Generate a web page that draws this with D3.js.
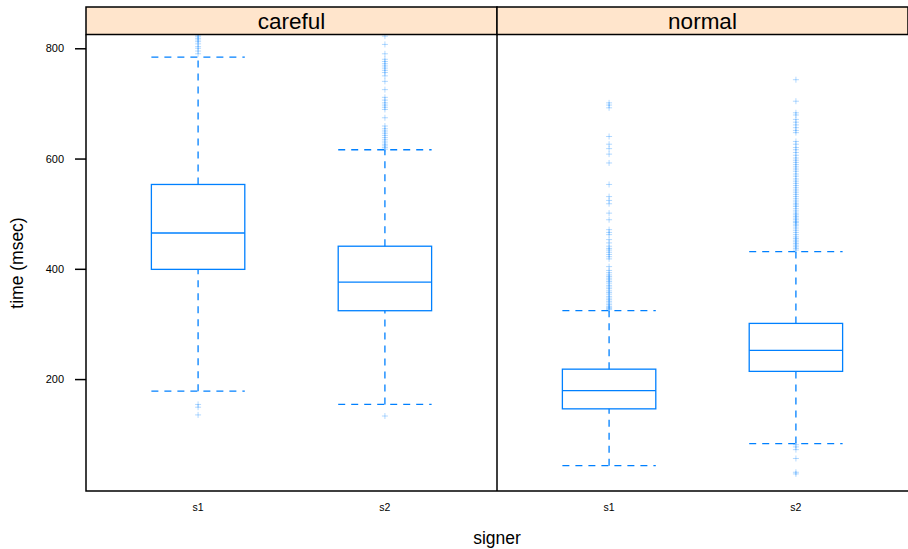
<!DOCTYPE html>
<html>
<head>
<meta charset="utf-8">
<script src="https://cdn.jsdelivr.net/npm/d3@7"></script>
<style>
  body { margin: 0; background: #fff; }
  text { font-family: "Liberation Sans", Arial, Helvetica, sans-serif; }
</style>
</head>
<body>
<script>
const width = 908;
const height = 549;

// panels and categories
const panels = ["careful", "normal"];
const signers = ["s1", "s2"];
const yTicks = [200, 400, 600, 800];

// [lower whisker, q1, median, q3, upper whisker] for s1, s2
const carefulStats = [[178, 399, 465, 553, 784], [154, 324, 376, 441, 616]];
const normalStats = [[43, 146, 179, 218, 324], [83, 214, 252, 301, 431]];

// outliers
const carefulS1Out = [824, 821, 818, 815, 812, 808, 803, 800, 795, 790, 154, 149, 135];
const carefulS2Out = [822, 807, 790, 780, 776, 772, 768, 764, 760, 756, 750, 740, 725,
  711, 706, 701, 697, 693, 689, 674, 659, 654, 650, 646, 642, 638, 634, 630, 626, 623,
  620, 617, 133];
const normalS1Out = [701, 697, 692, 640, 626, 618, 608, 592, 553, 531, 524, 518, 501,
  489, 471, 466, 462, 453, 447, 441, 437, 434, 430, 426, 422, 418, 404, 397, 393, 389,
  386, 383, 380, 377, 374, 370, 367, 364, 360, 357, 354, 350, 347, 344, 341, 338, 335,
  332, 330, 328, 326];
const normalS2Out = [743, 704, 683, 679, 671, 666, 661, 656, 651, 647, 631, 626, 620,
  616, 611, 606, 601, 597, 593, 589, 585, 581, 577, 572, 568, 563, 559, 555, 551, 547,
  543, 539, 535, 531, 527, 523, 519, 516, 513, 509, 505, 501, 498, 495, 492, 489, 486,
  484, 481, 478, 474, 470, 466, 462, 458, 455, 452, 449, 446, 443, 440, 437, 434,
  81, 77, 72, 56, 31, 28];

const stats = { careful: carefulStats, normal: normalStats };
const outliers = { careful: [carefulS1Out, carefulS2Out], normal: [normalS1Out, normalS2Out] };

const plotLeft = 86;
const plotRight = 908;
const plotTop = 34.5;
const plotBottom = 491;
const stripTop = 7;
const blue = "#0080ff";

const panelX = d3.scaleBand()
    .domain(panels)
    .range([plotLeft, plotRight])
    .paddingInner(0);

const y = d3.scaleLinear()
    .domain([-3, 825])
    .range([plotBottom, plotTop]);

const svg = d3.select("body")
    .append("svg")
    .attr("width", width)
    .attr("height", height);

svg.append("defs").append("clipPath")
    .attr("id", "clip")
    .append("rect")
    .attr("x", plotLeft)
    .attr("y", plotTop)
    .attr("width", plotRight - plotLeft)
    .attr("height", plotBottom - plotTop);

panels.forEach(p => {
  const x0 = panelX(p);
  const x1 = x0 + panelX.bandwidth();
  const x = d3.scalePoint()
      .domain(signers)
      .range([x0, x1])
      .padding(0.6);
  const boxW = x.step() * 0.5;

  const g = svg.append("g").attr("clip-path", "url(#clip)");

  //outliers
  signers.forEach((s, i) => {
    g.selectAll(null)
      .data(outliers[p][i])
      .enter()
      .append("path")
      .attr("transform", d => `translate(${x(s)},${y(d)})`)
      .attr("d", "M-3,0H3M0,-3V3")
      .attr("stroke", blue)
      .attr("stroke-opacity", 0.3)
      .attr("stroke-width", 1)
      .attr("fill", "none");
  });

  signers.forEach((s, i) => {
    const [lo, q1, med, q3, hi] = stats[p][i];
    const cx = x(s);

    //whiskers
    [[lo, q1], [q3, hi]].forEach(([a, b]) => {
      g.append("line")
        .attr("x1", cx).attr("x2", cx)
        .attr("y1", y(a)).attr("y2", y(b))
        .attr("stroke", blue)
        .attr("stroke-width", 1.3)
        .attr("stroke-dasharray", "7 6");
    });
    //caps
    [lo, hi].forEach(v => {
      g.append("line")
        .attr("x1", cx - boxW / 2).attr("x2", cx + boxW / 2)
        .attr("y1", y(v)).attr("y2", y(v))
        .attr("stroke", blue)
        .attr("stroke-width", 1.3)
        .attr("stroke-dasharray", "7 6");
    });
    //box
    g.append("rect")
      .attr("x", cx - boxW / 2)
      .attr("y", y(q3))
      .attr("width", boxW)
      .attr("height", y(q1) - y(q3))
      .attr("fill", "none")
      .attr("stroke", blue)
      .attr("stroke-width", 1.3);
    //median
    g.append("line")
      .attr("x1", cx - boxW / 2).attr("x2", cx + boxW / 2)
      .attr("y1", y(med)).attr("y2", y(med))
      .attr("stroke", blue)
      .attr("stroke-width", 1.3);

    //x tick labels
    svg.append("text")
      .attr("x", cx)
      .attr("y", 507)
      .attr("dy", "0.35em")
      .attr("text-anchor", "middle")
      .attr("font-size", 10.5)
      .text(s);
  });

  //strip
  svg.append("rect")
    .attr("x", x0)
    .attr("y", stripTop)
    .attr("width", x1 - x0)
    .attr("height", plotTop - stripTop)
    .attr("fill", "#ffe5cc")
    .attr("stroke", "black")
    .attr("stroke-width", 1.5);

  svg.append("text")
    .attr("x", (x0 + x1) / 2)
    .attr("y", (stripTop + plotTop) / 2)
    .attr("dy", "0.36em")
    .attr("text-anchor", "middle")
    .attr("font-size", 22.5)
    .text(p);
});

//panel borders
svg.append("path")
  .attr("d", `M${plotLeft},${plotTop}V${plotBottom}H${plotRight}M${panelX("normal")},${plotTop}V${plotBottom}`)
  .attr("fill", "none")
  .attr("stroke", "black")
  .attr("stroke-width", 1.5);

//y axis
const yAxis = svg.append("g")
  .attr("transform", `translate(${plotLeft},0)`)
  .call(d3.axisLeft(y).tickValues(yTicks).tickSize(11).tickPadding(11));
yAxis.select(".domain").remove();
yAxis.selectAll(".tick line").attr("stroke-width", 1.5);
yAxis.selectAll(".tick text")
  .attr("font-family", "Liberation Sans, Arial, sans-serif")
  .attr("font-size", 11);

//axis titles
svg.append("text")
  .attr("x", 497)
  .attr("y", 538)
  .attr("dy", "0.35em")
  .attr("text-anchor", "middle")
  .attr("font-size", 17.5)
  .text("signer");

svg.append("text")
  .attr("transform", "translate(17,263) rotate(-90)")
  .attr("dy", "0.35em")
  .attr("text-anchor", "middle")
  .attr("font-size", 17.5)
  .text("time (msec)");
</script>
</body>
</html>
